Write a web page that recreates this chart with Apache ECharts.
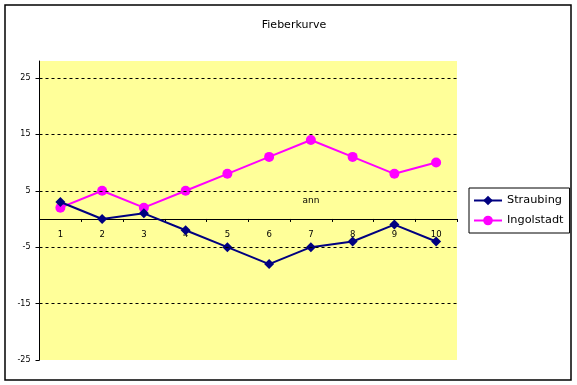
<!DOCTYPE html>
<html>
<head>
<meta charset="utf-8">
<script src="https://cdn.jsdelivr.net/npm/echarts@6/dist/echarts.min.js"></script>
<style>html,body{margin:0;padding:0;background:#fff;}#c{width:577px;height:385px;}</style>
</head>
<body>
<div id="c"></div>
<script>
const categories = ['1','2','3','4','5','6','7','8','9','10'];
const straubing = [3, 0, 1, -2, -5, -8, -5, -4, -1, -4];
const ingolstadt = [2, 5, 2, 5, 8, 11, 14, 11, 8, 10];
const yTicks = [-25, -15, -5, 5, 15, 25];
const gridValues = [-15, -5, 5, 15, 25];
const annotation = { category: 6, value: 3.2, text: 'ann' };

const FONT = 'DejaVu Sans';
const GRID_TOP = 61, GRID_BOTTOM = 25, H = 385;
const chart = echarts.init(document.getElementById('c'), null, { renderer: 'canvas' });
const option = {
  animation: false,
  backgroundColor: '#fff',
  textStyle: { fontFamily: FONT },
  title: {
    text: 'Fieberkurve',
    left: 289, top: 15, textAlign: 'center',
    textStyle: { fontFamily: FONT, fontSize: 11, fontWeight: 'normal', color: '#000' }
  },
  graphic: [{
    type: 'rect', shape: { x: 5, y: 5, width: 566, height: 375 },
    style: { fill: 'none', stroke: '#000', lineWidth: 1.5 }, silent: true, z: 100
  }],
  legend: {
    data: ['Straubing', 'Ingolstadt'],
    orient: 'vertical', left: 469, top: 188,
    padding: [7, 6, 7, 4],
    itemWidth: 28, itemHeight: 12, itemGap: 9,
    borderColor: '#000', borderWidth: 1,
    textStyle: { fontFamily: FONT, fontSize: 11.3, color: '#000' }
  },
  grid: {
    left: 39.5, right: 120, top: GRID_TOP, bottom: GRID_BOTTOM,
    show: true, backgroundColor: '#FFFF99', borderWidth: 0
  },
  xAxis: {
    type: 'category', data: categories, boundaryGap: true,
    position: 'bottom', offset: 0,
    axisLine: { onZero: false, lineStyle: { color: '#000', width: 1 } },
    axisTick: { show: true, length: 3, lineStyle: { color: '#000' } },
    axisLabel: { margin: 11, fontFamily: FONT, fontSize: 8.5, color: '#000' },
    splitLine: { show: false }
  },
  yAxis: {
    type: 'value', min: -25, max: 28, interval: 10,
    axisLine: { show: true, onZero: false, lineStyle: { color: '#000', width: 1 } },
    axisTick: { show: true, length: 4, lineStyle: { color: '#000' }, customValues: yTicks },
    axisLabel: { margin: 9, fontFamily: FONT, fontSize: 8, color: '#000', customValues: yTicks },
    splitLine: { show: false }
  },
  series: [
    {
      name: 'grid', type: 'line', data: [], z: 1, silent: true,
      markLine: {
        silent: true, symbol: ['none', 'none'], animation: false,
        label: { show: false },
        lineStyle: { color: '#000', type: [3, 3], width: 1 },
        data: gridValues.map(v => ({ yAxis: v }))
      }
    },
    {
      name: 'Straubing', type: 'line', data: straubing, z: 4,
      symbol: 'diamond', symbolSize: 10,
      lineStyle: { color: '#000080', width: 2 },
      itemStyle: { color: '#000080' },
      markPoint: {
        symbol: 'rect', symbolSize: 1, silent: true,
        itemStyle: { color: 'rgba(0,0,0,0)' },
        label: { show: true, position: 'inside', formatter: annotation.text, fontFamily: FONT, fontSize: 9, color: '#000' },
        data: [{ coord: [annotation.category, annotation.value] }]
      }
    },
    {
      name: 'Ingolstadt', type: 'line', data: ingolstadt, z: 3,
      symbol: 'circle', symbolSize: 10,
      lineStyle: { color: '#FF00FF', width: 2 },
      itemStyle: { color: '#FF00FF' }
    }
  ]
};
chart.setOption(option);
// place the category axis on the zero line, using the value axis scale
const zeroY = chart.convertToPixel({ yAxisIndex: 0 }, 0);
const gridBottomY = H - GRID_BOTTOM;
chart.setOption({ xAxis: { offset: -(gridBottomY - zeroY) } });
</script>
</body>
</html>
